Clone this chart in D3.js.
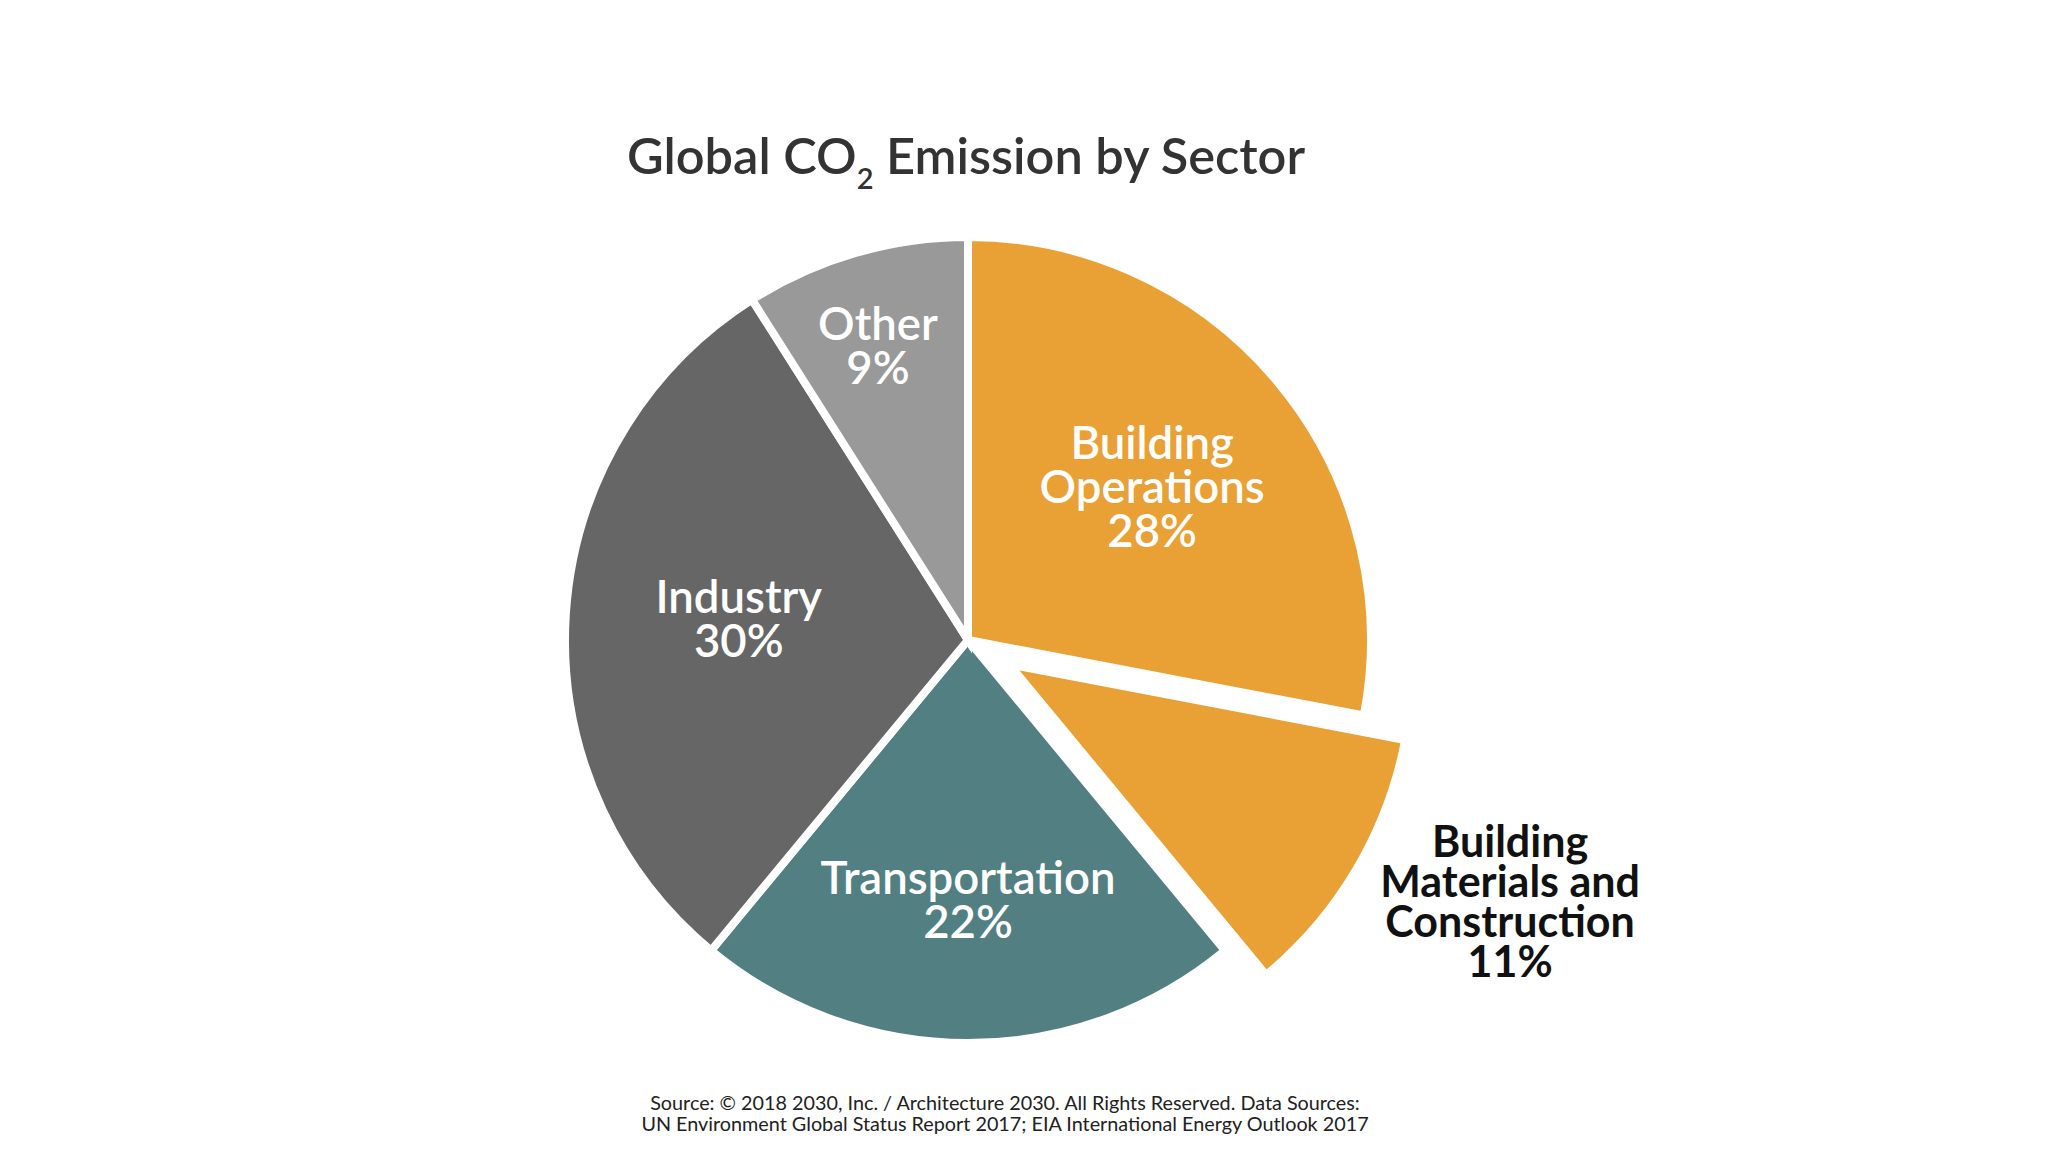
<!DOCTYPE html>
<html>
<head>
<meta charset="utf-8">
<script src="https://cdn.jsdelivr.net/npm/d3@7"></script>
<style>
  html, body { margin: 0; padding: 0; background: #fff; }
  text { font-family: "Lato", "Open Sans", sans-serif; }
</style>
</head>
<body>
<div id="chart"></div>
<script>
// sectors, clockwise from 12 o'clock
const sectors = ["Building Operations", "Building Materials and Construction", "Transportation", "Industry", "Other"];
const shares = [28, 11, 22, 30, 9];
const labelLines = [
  ["Building", "Operations", "28%"],
  ["Building", "Materials and", "Construction", "11%"],
  ["Transportation", "22%"],
  ["Industry", "30%"],
  ["Other", "9%"]
];
const sourceLines = [
  "Source: \u00A9 2018 2030, Inc. / Architecture 2030. All Rights Reserved. Data Sources:",
  "UN Environment Global Status Report 2017; EIA International Energy Outlook 2017"
];

const data = sectors.map((s, i) => ({ sector: s, share: shares[i], lines: labelLines[i] }));

var width = 2048,
  height = 1152,
  cx = 968,
  cy = 640,
  radius = 403;

var color = d3
  .scaleOrdinal()
  .domain(sectors)
  .range(["#E9A035", "#E9A035", "#517F82", "#666666", "#999999"]);

// the exploded slice and where each label sits:
// r = fraction of radius, da = angle shift in degrees
const exploded = "Building Materials and Construction";
const labelPos = {
  "Building Operations": { r: 0.593, da: 0 },
  "Building Materials and Construction": { r: 1.494, da: -4.8 },
  "Transportation": { r: 0.648, da: 0 },
  "Industry": { r: 0.571, da: 1.5 },
  "Other": { r: 0.76, da: -0.9 }
};

var svg = d3
  .select("#chart")
  .append("svg")
  .attr("width", width)
  .attr("height", height);

// title with subscript
var title = svg
  .append("text")
  .attr("x", 966)
  .attr("y", 174)
  .attr("text-anchor", "middle")
  .attr("fill", "#333333")
  .style("font-size", "50.5px")
  .style("font-weight", "600");
title.append("tspan").text("Global CO");
title.append("tspan").attr("dy", 15).style("font-size", "29px").text("2");
title.append("tspan").attr("dy", -15).text(" Emission by Sector");

var pie = d3
  .pie()
  .sort(null)
  .value((d) => d.share);

var arc = d3.arc().innerRadius(0).outerRadius(radius);

var arcs = pie(data);

var g = svg.append("g").attr("transform", "translate(" + cx + "," + cy + ")");

function direction(d, shift) {
  var a = (d.startAngle + d.endAngle) / 2 + ((shift || 0) * Math.PI) / 180;
  return [Math.sin(a), -Math.cos(a)];
}

g.selectAll(".slice")
  .data(arcs)
  .enter()
  .append("path")
  .attr("class", "slice")
  .attr("d", arc)
  .attr("fill", (d) => color(d.data.sector))
  .attr("stroke", "#ffffff")
  .attr("stroke-width", 8)
  .attr("stroke-linejoin", "miter")
  .attr("transform", (d) => {
    if (d.data.sector !== exploded) return null;
    var v = direction(d);
    return "translate(" + v[0] * 48 + "," + v[1] * 48 + ")";
  });

var labels = g
  .selectAll(".label")
  .data(arcs)
  .enter()
  .append("text")
  .attr("class", "label")
  .attr("text-anchor", "middle")
  .attr("fill", (d) => (d.data.sector === exploded ? "#111111" : "#ffffff"))
  .style("font-size", (d) => (d.data.sector === exploded ? "43px" : "45.5px"))
  .style("font-weight", (d) => (d.data.sector === exploded ? "700" : "600"))
  .attr("transform", (d) => {
    var p = labelPos[d.data.sector];
    var v = direction(d, p.da);
    var r = radius * p.r;
    return "translate(" + v[0] * r + "," + v[1] * r + ")";
  });

labels.each(function (d) {
  var n = d.data.lines.length;
  var lh = d.data.sector === exploded ? 40 : 44;
  d3.select(this)
    .selectAll("tspan")
    .data(d.data.lines)
    .enter()
    .append("tspan")
    .attr("x", 0)
    .attr("y", (t, i) => (i - (n - 1) / 2) * lh + 15)
    .text((t) => t);
});

svg
  .append("text")
  .attr("x", 1005)
  .attr("y", 1110)
  .attr("text-anchor", "middle")
  .attr("fill", "#222222")
  .style("font-size", "19.8px")
  .selectAll("tspan")
  .data(sourceLines)
  .enter()
  .append("tspan")
  .attr("x", 1005)
  .attr("dy", (t, i) => (i === 0 ? 0 : 21))
  .text((t) => t);
</script>
</body>
</html>
